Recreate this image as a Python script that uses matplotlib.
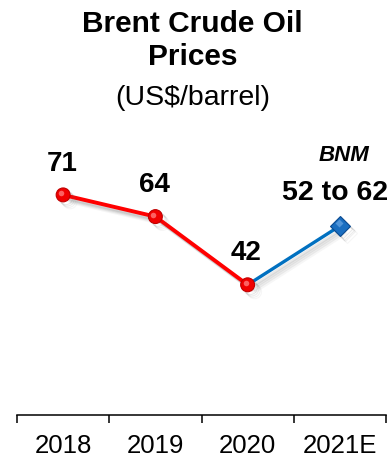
import matplotlib
matplotlib.use("Agg")
import matplotlib.pyplot as plt
import matplotlib.patheffects as pe
from matplotlib.transforms import offset_copy

plt.rcParams['font.family'] = ['Liberation Sans', 'DejaVu Sans']

years = ['2018', '2019', '2020', '2021E']
actual = [71, 64, 42]          # 2018-2020
forecast = 61                   # 2021E point
forecast_label = '52 to 62'
forecast_tag = 'BNM'

red = '#ff0000'
blue = '#0070c0'

fig = plt.figure(figsize=(3.91, 4.61), dpi=100)
ax = fig.add_axes([17/391, 46/461, 369/391, 279/461])

# soft drop shadow made of a few offset layers
shadow = [pe.SimpleLineShadow(offset=(2.0, -2.0), shadow_color='#666666', alpha=0.14, rho=1),
          pe.SimpleLineShadow(offset=(3.0, -3.0), shadow_color='#666666', alpha=0.12, rho=1),
          pe.SimpleLineShadow(offset=(4.0, -4.0), shadow_color='#666666', alpha=0.09, rho=1),
          pe.SimpleLineShadow(offset=(5.0, -5.0), shadow_color='#666666', alpha=0.06, rho=1),
          pe.Normal()]

x = list(range(len(years)))
ax.plot(x[2:], [actual[-1], forecast], color=blue, lw=2.4, solid_capstyle='butt',
        path_effects=shadow, zorder=2)
ax.plot(x[:3], actual, color=red, lw=2.8, solid_capstyle='butt',
        path_effects=shadow, zorder=3)
ax.plot(x[:3], actual, ls='none', marker='o', ms=10, mfc='#f00000', mec='#c00000', mew=0.8,
        path_effects=shadow, zorder=4)
# highlight on the spheres
hl = offset_copy(ax.transData, fig=fig, x=-2, y=2, units='dots')
ax.plot(x[:3], actual, ls='none', marker='o', ms=4, mfc='#ff7a7a', mec='none', alpha=0.8,
        transform=hl, zorder=5)
ax.plot([x[3]], [forecast], ls='none', marker='D', ms=10, mfc='#1a6ec0', mec='#0a4a90', mew=0.8,
        path_effects=shadow, zorder=4)
hl2 = offset_copy(ax.transData, fig=fig, x=-1, y=3, units='dots')
ax.plot([x[3]], [forecast], ls='none', marker='D', ms=4, mfc='#5fa0e0', mec='none', alpha=0.8,
        transform=hl2, zorder=5)

# value labels
for xi, v in zip(x[:3], actual):
    ax.annotate(str(v), (xi, v), xytext=(-1, 17.5), textcoords='offset points',
                ha='center', va='baseline', fontsize=20, fontweight='bold')
ax.annotate(forecast_label, (x[3], forecast), xytext=(-3.5, 19), textcoords='offset points',
            ha='center', va='baseline', fontsize=20.5, fontweight='bold')
ax.annotate(forecast_tag, (x[3], forecast), xytext=(3, 47), textcoords='offset points',
            ha='center', va='baseline', fontsize=16, fontweight='bold', fontstyle='italic')

ax.set_xlim(-0.5, 3.5)
ax.set_ylim(0, 90)
ax.set_yticks([])
for s in ['top', 'right', 'left']:
    ax.spines[s].set_visible(False)
ax.spines['bottom'].set_linewidth(1.1)

ax.set_xticks([-0.5, 0.5, 1.5, 2.5, 3.5])
ax.set_xticklabels([])
ax.tick_params(axis='x', which='major', direction='out', length=6, width=1.1)
ax.set_xticks(x, minor=True)
ax.set_xticklabels(years, minor=True, fontsize=18.5)
ax.tick_params(axis='x', which='minor', length=0, pad=13.5)

fig.text(192.5/391, 1 - 32/461, 'Brent Crude Oil', ha='center', va='baseline',
         fontsize=21.5, fontweight='bold')
fig.text(192.5/391, 1 - 65/461, 'Prices', ha='center', va='baseline',
         fontsize=21.5, fontweight='bold')
fig.text(192.5/391, 1 - 105/461, '(US$/barrel)', ha='center', va='baseline', fontsize=20.5)

fig.savefig('out.png', dpi=100)
